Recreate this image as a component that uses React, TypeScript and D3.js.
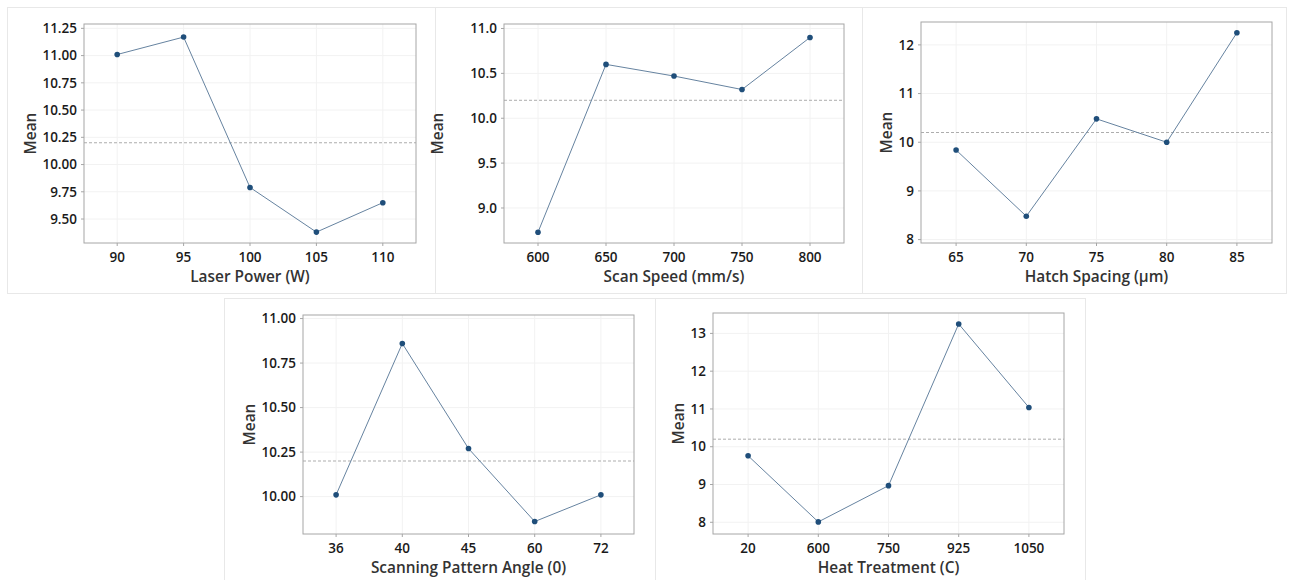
import React from "react";
import * as d3 from "d3";

// ---- Data ----
const laserPowerLevels = ["90", "95", "100", "105", "110"];
const laserPowerMeans = [11.01, 11.17, 9.79, 9.38, 9.65];
const laserPowerTicks = [9.5, 9.75, 10, 10.25, 10.5, 10.75, 11, 11.25];

const scanSpeedLevels = ["600", "650", "700", "750", "800"];
const scanSpeedMeans = [8.73, 10.6, 10.47, 10.32, 10.9];
const scanSpeedTicks = [9, 9.5, 10, 10.5, 11];

const hatchSpacingLevels = ["65", "70", "75", "80", "85"];
const hatchSpacingMeans = [9.84, 8.48, 10.48, 10.0, 12.25];
const hatchSpacingTicks = [8, 9, 10, 11, 12];

const angleLevels = ["36", "40", "45", "60", "72"];
const angleMeans = [10.01, 10.86, 10.27, 9.86, 10.01];
const angleTicks = [10, 10.25, 10.5, 10.75, 11];

const heatLevels = ["20", "600", "750", "925", "1050"];
const heatMeans = [9.76, 8.01, 8.97, 13.25, 11.04];
const heatTicks = [8, 9, 10, 11, 12, 13];

const grandMean = 10.2;

// ---- Layout ----
type PanelCfg = {
  title: string;
  levels: string[];
  means: number[];
  ticks: number[];
  fmt: string;
  yDomain: [number, number];
  frame: { x0: number; x1: number; y0: number; y1: number };
  meanX: number;
  box: { x: number; y: number; w: number; h: number };
};

const panels: PanelCfg[] = [
  {
    title: "Laser Power (W)",
    levels: laserPowerLevels,
    means: laserPowerMeans,
    ticks: laserPowerTicks,
    fmt: ".2f",
    yDomain: [9.28, 11.29],
    frame: { x0: 84, x1: 416, y0: 24, y1: 243 },
    meanX: 36,
    box: { x: 7, y: 7, w: 428, h: 286 },
  },
  {
    title: "Scan Speed (mm/s)",
    levels: scanSpeedLevels,
    means: scanSpeedMeans,
    ticks: scanSpeedTicks,
    fmt: ".1f",
    yDomain: [8.61, 11.05],
    frame: { x0: 504, x1: 844, y0: 24, y1: 243 },
    meanX: 443,
    box: { x: 435, y: 7, w: 427, h: 286 },
  },
  {
    title: "Hatch Spacing (µm)",
    levels: hatchSpacingLevels,
    means: hatchSpacingMeans,
    ticks: hatchSpacingTicks,
    fmt: "d",
    yDomain: [7.93, 12.47],
    frame: { x0: 921, x1: 1272, y0: 22, y1: 243 },
    meanX: 891.5,
    box: { x: 862, y: 7, w: 424, h: 286 },
  },
  {
    title: "Scanning Pattern Angle (0)",
    levels: angleLevels,
    means: angleMeans,
    ticks: angleTicks,
    fmt: ".2f",
    yDomain: [9.79, 11.02],
    frame: { x0: 303, x1: 634, y0: 315, y1: 534 },
    meanX: 254.5,
    box: { x: 224, y: 298, w: 431, h: 290 },
  },
  {
    title: "Heat Treatment (C)",
    levels: heatLevels,
    means: heatMeans,
    ticks: heatTicks,
    fmt: "d",
    yDomain: [7.69, 13.54],
    frame: { x0: 713, x1: 1064, y0: 313, y1: 534 },
    meanX: 684,
    box: { x: 655, y: 298, w: 430, h: 290 },
  },
];

const FONT = "'Segoe UI', 'Open Sans', sans-serif";

function Panel({ p }: { p: PanelCfg }) {
  const { frame } = p;
  const x = d3.scalePoint<string>().domain(p.levels).range([frame.x0, frame.x1]).padding(0.5);
  const y = d3.scaleLinear().domain(p.yDomain).range([frame.y1, frame.y0]);
  const fmt = d3.format(p.fmt);
  const line = d3
    .line<number>()
    .x((_, i) => x(p.levels[i]) as number)
    .y((d) => y(d));
  const cy = (frame.y0 + frame.y1) / 2;
  const cx = (frame.x0 + frame.x1) / 2;
  return (
    <g>
      <rect x={p.box.x + 0.5} y={p.box.y + 0.5} width={p.box.w} height={p.box.h} fill="#fff" stroke="#e8e8e8" />
      {/* grid */}
      {p.ticks.map((t) => (
        <line key={"gy" + t} x1={frame.x0} x2={frame.x1} y1={y(t)} y2={y(t)} stroke="#f2f2f2" />
      ))}
      {p.levels.map((l) => (
        <line key={"gx" + l} x1={x(l)} x2={x(l)} y1={frame.y0} y2={frame.y1} stroke="#f2f2f2" />
      ))}
      {/* grand mean */}
      <line
        x1={frame.x0}
        x2={frame.x1}
        y1={y(grandMean)}
        y2={y(grandMean)}
        stroke="#adadad"
        strokeDasharray="3,2"
      />
      {/* frame */}
      <rect
        x={frame.x0}
        y={frame.y0}
        width={frame.x1 - frame.x0}
        height={frame.y1 - frame.y0}
        fill="none"
        stroke="#a6a6a6"
      />
      {/* y ticks */}
      {p.ticks.map((t) => (
        <g key={"ty" + t}>
          <line x1={frame.x0 - 3} x2={frame.x0} y1={y(t)} y2={y(t)} stroke="#a6a6a6" />
          <text
            x={frame.x0 - 7}
            y={y(t)}
            dy="0.35em"
            textAnchor="end"
            fontFamily={FONT}
            fontSize={13.5}
            fontWeight={600}
            fill="#1a1a1a"
          >
            {fmt(t)}
          </text>
        </g>
      ))}
      {/* x ticks */}
      {p.levels.map((l) => (
        <g key={"tx" + l}>
          <line x1={x(l)} x2={x(l)} y1={frame.y1} y2={frame.y1 + 3} stroke="#a6a6a6" />
          <text
            x={x(l)}
            y={frame.y1 + 19}
            textAnchor="middle"
            fontFamily={FONT}
            fontSize={13.5}
            fontWeight={600}
            fill="#1a1a1a"
          >
            {l}
          </text>
        </g>
      ))}
      {/* series */}
      <path d={line(p.means) || ""} fill="none" stroke="#6683a0" strokeWidth={1} />
      {p.means.map((m, i) => (
        <circle key={"pt" + i} cx={x(p.levels[i])} cy={y(m)} r={2.8} fill="#1f4e7a" />
      ))}
      {/* titles */}
      <text
        x={cx}
        y={frame.y1 + 39}
        textAnchor="middle"
        fontFamily={FONT}
        fontSize={15.4}
        fontWeight={600}
        fill="#333"
      >
        {p.title}
      </text>
      <text
        transform={`translate(${p.meanX},${cy}) rotate(-90)`}
        textAnchor="middle"
        fontFamily={FONT}
        fontSize={15.4}
        fontWeight={600}
        fill="#333"
      >
        Mean
      </text>
    </g>
  );
}

export default function App() {
  return (
    <svg
      width={1290}
      height={580}
      style={{ position: "absolute", left: 0, top: 0, background: "#fff" }}
    >
      <rect x={0} y={0} width={1290} height={580} fill="#fff" />
      {panels.map((p, i) => (
        <Panel key={i} p={p} />
      ))}
    </svg>
  );
}
